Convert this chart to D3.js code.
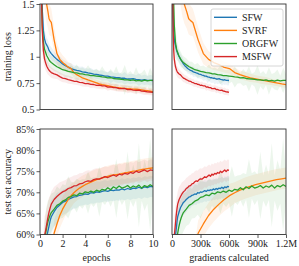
<!DOCTYPE html>
<html>
<head>
<meta charset="utf-8">
<script src="https://cdn.jsdelivr.net/npm/d3@7"></script>
<style>
  body { margin: 0; background: #fff; }
  svg text { font-family: "Liberation Serif", "DejaVu Serif", serif; fill: #222; }
</style>
</head>
<body>
<div id="chart"></div>
<script>
// epoch grid shared by every run
const epochs = [0, 0.1, 0.2, 0.3, 0.4, 0.5, 0.6, 0.7, 0.8, 0.9,
  1, 1.25, 1.5, 1.75, 2, 2.25, 2.5, 2.75, 3, 3.25, 3.5, 3.75, 4, 4.25, 4.5, 4.75,
  5, 5.25, 5.5, 5.75, 6, 6.25, 6.5, 6.75, 7, 7.25, 7.5, 7.75, 8, 8.25, 8.5, 8.75,
  9, 9.25, 9.5, 9.75, 10]

const methods = ['SFW', 'SVRF', 'ORGFW', 'MSFW']
const colors = ['#1f77b4', '#ff7f0e', '#2ca02c', '#d62728']
const gradsPerEpoch = [60000, 220000, 120000, 60000]

// training loss (mean)
const lossSFW = [2.3, 1.9, 1.45, 1.25, 1.17, 1.13, 1.11, 1.09, 1.06, 1.045,
  1.03, 1.0, 0.975, 0.955, 0.932, 0.915, 0.902, 0.888, 0.879, 0.87, 0.866, 0.857, 0.853, 0.847, 0.843, 0.836,
  0.833, 0.827, 0.823, 0.817, 0.816, 0.809, 0.807, 0.801, 0.801, 0.796, 0.796, 0.789, 0.789, 0.792, 0.785, 0.784,
  0.779, 0.782, 0.777, 0.777, 0.775]
const lossSVRF = [2.4, 2.2, 2.0, 1.85, 1.7, 1.58, 1.49, 1.43, 1.36, 1.34,
  1.325, 1.16, 1.03, 0.975, 0.945, 0.925, 0.9, 0.888, 0.85, 0.83, 0.815, 0.8, 0.79, 0.78, 0.772, 0.762,
  0.752, 0.742, 0.735, 0.73, 0.725, 0.72, 0.715, 0.71, 0.706, 0.703, 0.7, 0.698, 0.696, 0.694, 0.692, 0.69,
  0.686, 0.682, 0.678, 0.674, 0.67]
const lossORGFW = [2.3, 1.7, 1.3, 1.14, 1.07, 1.04, 1.01, 0.99, 0.97, 0.955,
  0.945, 0.925, 0.905, 0.892, 0.877, 0.871, 0.861, 0.856, 0.849, 0.847, 0.839, 0.837, 0.831, 0.829, 0.822, 0.821,
  0.817, 0.813, 0.809, 0.807, 0.799, 0.803, 0.794, 0.791, 0.789, 0.786, 0.781, 0.781, 0.775, 0.781, 0.771, 0.776,
  0.769, 0.779, 0.771, 0.776, 0.777]
const lossMSFW = [2.3, 1.75, 1.25, 1.06, 0.98, 0.94, 0.91, 0.89, 0.872, 0.86,
  0.85, 0.837, 0.828, 0.812, 0.798, 0.792, 0.783, 0.777, 0.768, 0.767, 0.758, 0.754, 0.746, 0.746, 0.738, 0.737,
  0.728, 0.73, 0.723, 0.724, 0.713, 0.714, 0.708, 0.708, 0.698, 0.698, 0.701, 0.689, 0.69, 0.683, 0.681, 0.684,
  0.674, 0.673, 0.667, 0.666, 0.662]

// training loss spread (band half-width)
const lossSdSFW = [0.3, 0.3, 0.25, 0.15, 0.1, 0.08, 0.07, 0.07, 0.06, 0.06,
  0.06, 0.05, 0.05, 0.05, 0.045, 0.045, 0.04, 0.05, 0.04, 0.045, 0.04, 0.05, 0.04, 0.04, 0.05, 0.04,
  0.045, 0.04, 0.05, 0.04, 0.04, 0.06, 0.04, 0.045, 0.05, 0.04, 0.06, 0.04, 0.05, 0.045, 0.04, 0.06,
  0.04, 0.05, 0.04, 0.05, 0.045]
const lossSdSVRF = [0.2, 0.2, 0.2, 0.2, 0.2, 0.2, 0.18, 0.16, 0.15, 0.14,
  0.13, 0.12, 0.1, 0.08, 0.07, 0.06, 0.05, 0.05, 0.045, 0.04, 0.04, 0.04, 0.035, 0.035, 0.035, 0.03,
  0.03, 0.03, 0.03, 0.03, 0.03, 0.03, 0.03, 0.03, 0.03, 0.03, 0.03, 0.03, 0.03, 0.03, 0.03, 0.03,
  0.03, 0.03, 0.03, 0.03, 0.03]
const lossSdORGFW = [0.3, 0.3, 0.25, 0.15, 0.1, 0.08, 0.07, 0.07, 0.07, 0.06,
  0.06, 0.06, 0.05, 0.06, 0.05, 0.07, 0.05, 0.06, 0.05, 0.08, 0.05, 0.06, 0.05, 0.09, 0.06, 0.05,
  0.07, 0.05, 0.1, 0.06, 0.05, 0.08, 0.06, 0.12, 0.05, 0.07, 0.14, 0.06, 0.09, 0.05, 0.13, 0.06,
  0.08, 0.1, 0.05, 0.12, 0.06]
const lossSdMSFW = [0.3, 0.3, 0.2, 0.12, 0.08, 0.07, 0.06, 0.06, 0.05, 0.05,
  0.05, 0.045, 0.04, 0.04, 0.04, 0.035, 0.04, 0.035, 0.03, 0.035, 0.03, 0.035, 0.03, 0.03, 0.035, 0.03,
  0.03, 0.035, 0.03, 0.03, 0.035, 0.03, 0.03, 0.035, 0.03, 0.03, 0.03, 0.035, 0.03, 0.03, 0.035, 0.03,
  0.03, 0.035, 0.03, 0.03, 0.03]

// test set accuracy in % (mean)
const accSFW = [20, 30, 40, 48, 54, 57.5, 59.5, 60.8, 62, 63.3,
  64.2, 65.4, 66.4, 67.0, 67.6, 67.9, 68.3, 68.6, 68.9, 69.0, 69.3, 69.4, 69.6, 69.5, 69.9, 69.8,
  70.1, 70.0, 70.2, 70.4, 70.2, 70.5, 70.4, 70.6, 70.5, 70.8, 70.6, 70.9, 70.7, 71.0, 70.9, 71.2,
  70.9, 71.3, 71.1, 71.4, 71.3]
const accSVRF = [10, 12, 14, 16, 20, 25, 30, 35, 40, 45,
  52, 60.3, 62.5, 64.5, 66.0, 67.2, 68.3, 69.2, 69.9, 70.5, 71.0, 71.4, 71.8, 72.1, 72.4, 72.7,
  73.0, 73.2, 73.4, 73.6, 73.8, 74.0, 74.1, 74.2, 74.3, 74.45, 74.6, 74.7, 74.85, 75.0, 75.1, 75.25,
  75.4, 75.5, 75.6, 75.7, 75.8]
const accORGFW = [25, 35, 45, 52, 57.5, 60.3, 61.8, 63, 63.9, 64.6,
  65.2, 66.0, 66.9, 67.3, 67.9, 68.2, 68.8, 69.0, 69.4, 69.2, 69.8, 69.6, 70.1, 69.9, 70.3, 70.0,
  70.5, 70.2, 70.7, 70.5, 71.1, 70.6, 71.3, 70.9, 71.5, 71.0, 71.2, 71.6, 71.0, 71.5, 71.2, 71.7,
  71.0, 71.6, 71.3, 71.8, 71.4]
const accMSFW = [30, 40, 48, 55, 59.8, 61.0, 62.5, 64, 65.3, 66.3,
  67.2, 68.3, 69.0, 69.6, 70.1, 70.4, 70.9, 71.1, 71.5, 71.6, 72.0, 72.1, 72.5, 72.7, 72.6, 73.0,
  73.2, 73.1, 73.4, 73.7, 73.5, 73.8, 74.1, 73.8, 74.3, 74.1, 74.5, 74.3, 74.7, 74.5, 75.0, 74.7,
  75.0, 75.3, 74.9, 75.3, 75.2]

// test set accuracy spread (band half-width, %)
const accSdSFW = [5, 5, 5, 5, 5, 5, 4.5, 4.5, 4, 4,
  4, 3.5, 3.5, 3, 3, 3, 3, 2.8, 2.8, 2.8, 2.5, 2.5, 2.5, 2.5, 2.5, 2.5,
  2.5, 2.5, 2.5, 2.5, 2.5, 2.5, 2.5, 2.5, 2.5, 2.5, 2.5, 2.5, 2.5, 2.5, 2.5, 2.5,
  2.5, 2.5, 2.5, 2.5, 2.5]
const accSdSVRF = [3, 3, 3, 3, 3, 3, 3, 3, 3, 3,
  3, 3, 3, 3, 3, 2.8, 2.8, 2.8, 2.5, 2.5, 2.5, 2.5, 2.5, 2.5, 2.5, 2.5,
  2.5, 2.5, 2.5, 2.5, 2.5, 2.5, 2.5, 2.5, 2.5, 2.5, 2.5, 2.5, 2.5, 2.5, 2.5, 2.5,
  2.5, 2.5, 2.5, 2.5, 2.5]
const accSdORGFW = [5, 5, 5, 5, 5, 5, 5, 5, 4.5, 4.5,
  4.5, 4, 4.5, 3.5, 4, 3.5, 5, 3.5, 3, 4, 3, 3.5, 3, 5, 3, 3.5,
  3, 6, 3, 3.5, 3, 4, 3, 7, 3, 4, 3, 8, 3, 5, 3, 10,
  3, 6, 4, 11, 3.5]
const accSdMSFW = [5, 5, 5, 5, 4.5, 4, 4, 3.5, 3.5, 3,
  3, 3, 2.8, 2.8, 2.5, 2.5, 2.5, 2.5, 2.5, 2.5, 2.5, 2.5, 2.5, 2.5, 2.5, 2.5,
  2.5, 2.5, 2.5, 2.5, 2.5, 2.5, 2.5, 2.5, 2.5, 2.5, 2.5, 2.5, 2.5, 2.5, 2.5, 2.5,
  2.5, 2.5, 2.5, 2.5, 2.5]

const lossTicks = [0.5, 0.75, 1, 1.25, 1.5]
const lossTickLabels = ['0.5', '0.75', '1', '1.25', '1.5']
const accTicks = [60, 65, 70, 75, 80, 85]
const accTickLabels = ['60%', '65%', '70%', '75%', '80%', '85%']
const epochTicks = [0, 2, 4, 6, 8, 10]
const gradTicks = [0, 300000, 600000, 900000, 1200000]
const gradTickLabels = ['0', '300k', '600k', '900k', '1.2M']

const series = methods.map((name, i) => ({
  name, color: colors[i], gpe: gradsPerEpoch[i],
  loss: [lossSFW, lossSVRF, lossORGFW, lossMSFW][i],
  lossSd: [lossSdSFW, lossSdSVRF, lossSdORGFW, lossSdMSFW][i],
  acc: [accSFW, accSVRF, accORGFW, accMSFW][i],
  accSd: [accSdSFW, accSdSVRF, accSdORGFW, accSdMSFW][i]
}))

const W = 299, H = 266
const svg = d3.select('#chart').append('svg')
  .attr('width', W).attr('height', H)
  .attr('font-family', '"Liberation Serif", "DejaVu Serif", serif')

const cols = [[40, 153], [172, 286]]
const rows = [[4, 109.5], [129, 234.5]]

const xEpoch = d3.scaleLinear().domain([0, 10]).range(cols[0])
const xGrad = d3.scaleLinear().domain([0, 1200000]).range(cols[1])
const yLoss = d3.scaleLinear().domain([0.5, 1.5]).range([rows[0][1], rows[0][0]])
const yAcc = d3.scaleLinear().domain([60, 85]).range([rows[1][1], rows[1][0]])

let clipId = 0
function panel(x, y, useGrad, metric) {
  const g = svg.append('g')
  const id = 'clip' + (clipId++)
  g.append('clipPath').attr('id', id).append('rect')
    .attr('x', x.range()[0]).attr('y', y.range()[1])
    .attr('width', x.range()[1] - x.range()[0])
    .attr('height', y.range()[0] - y.range()[1])
  const plot = g.append('g').attr('clip-path', `url(#${id})`)

  series.forEach(s => {
    const xv = i => x(useGrad ? epochs[i] * s.gpe : epochs[i])
    const vals = s[metric], sd = s[metric + 'Sd']
    const area = d3.area()
      .x((d, i) => xv(i))
      .y0((d, i) => y(d - sd[i]))
      .y1((d, i) => y(d + sd[i]))
    plot.append('path').datum(vals)
      .attr('d', area)
      .attr('fill', s.color).attr('fill-opacity', 0.09)
  })
  series.forEach(s => {
    const xv = i => x(useGrad ? epochs[i] * s.gpe : epochs[i])
    const line = d3.line().x((d, i) => xv(i)).y(d => y(d))
    plot.append('path').datum(s[metric])
      .attr('d', line)
      .attr('fill', 'none').attr('stroke', s.color)
      .attr('stroke-width', 1.3).attr('stroke-linejoin', 'round')
  })
  g.append('rect')
    .attr('x', x.range()[0]).attr('y', y.range()[1])
    .attr('width', x.range()[1] - x.range()[0])
    .attr('height', y.range()[0] - y.range()[1])
    .attr('fill', 'none').attr('stroke', '#333').attr('stroke-width', 0.9)
  return g
}

function styleAxis(a) {
  a.attr('font-family', null)
  a.select('.domain').remove()
  a.selectAll('line').attr('stroke', '#333').attr('stroke-width', 0.8)
  a.selectAll('text').attr('font-size', 10).attr('fill', '#222')
}

panel(xEpoch, yLoss, false, 'loss')
panel(xGrad, yLoss, true, 'loss')
panel(xEpoch, yAcc, false, 'acc')
panel(xGrad, yAcc, true, 'acc')

// y axes (left column only)
svg.append('g').attr('transform', `translate(${cols[0][0]},0)`)
  .call(d3.axisLeft(yLoss).tickValues(lossTicks).tickFormat((d, i) => lossTickLabels[i]).tickSize(3.5).tickPadding(2))
  .call(styleAxis)
svg.append('g').attr('transform', `translate(${cols[0][0]},0)`)
  .call(d3.axisLeft(yAcc).tickValues(accTicks).tickFormat((d, i) => accTickLabels[i]).tickSize(3.5).tickPadding(2))
  .call(styleAxis)

// x axes (bottom row only)
svg.append('g').attr('transform', `translate(0,${rows[1][1]})`)
  .call(d3.axisBottom(xEpoch).tickValues(epochTicks).tickFormat(d3.format('d')).tickSize(3.5).tickPadding(1.5))
  .call(styleAxis)
svg.append('g').attr('transform', `translate(0,${rows[1][1]})`)
  .call(d3.axisBottom(xGrad).tickValues(gradTicks).tickFormat((d, i) => gradTickLabels[i]).tickSize(3.5).tickPadding(1.5))
  .call(styleAxis)

// axis titles
svg.append('text').attr('x', (cols[0][0] + cols[0][1]) / 2).attr('y', 261)
  .attr('text-anchor', 'middle').attr('font-size', 10).text('epochs')
svg.append('text').attr('x', (cols[1][0] + cols[1][1]) / 2).attr('y', 261)
  .attr('text-anchor', 'middle').attr('font-size', 10).text('gradients calculated')
svg.append('text')
  .attr('transform', `translate(11,${(rows[0][0] + rows[0][1]) / 2}) rotate(-90)`)
  .attr('text-anchor', 'middle').attr('font-size', 10).text('training loss')
svg.append('text')
  .attr('transform', `translate(11,${(rows[1][0] + rows[1][1]) / 2}) rotate(-90)`)
  .attr('text-anchor', 'middle').attr('font-size', 10).text('test set accuracy')

// legend
const lg = svg.append('g').attr('transform', 'translate(211,9)')
lg.append('rect').attr('width', 72).attr('height', 57).attr('rx', 2)
  .attr('fill', '#fff').attr('fill-opacity', 0.8)
  .attr('stroke', '#ccc').attr('stroke-width', 0.8)
series.forEach((s, i) => {
  const yy = 8.3 + i * 13.1
  lg.append('line').attr('x1', 3).attr('x2', 26).attr('y1', yy).attr('y2', yy)
    .attr('stroke', s.color).attr('stroke-width', 1.4)
  lg.append('text').attr('x', 31).attr('y', yy + 3.5).attr('font-size', 10).text(s.name)
})
</script>
</body>
</html>
